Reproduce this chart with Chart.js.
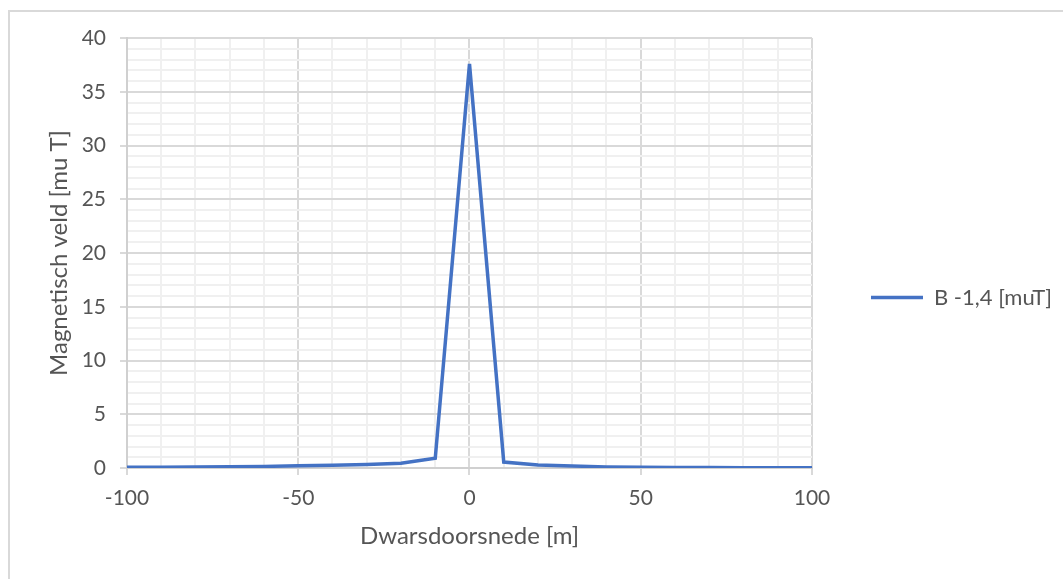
<!DOCTYPE html>
<html>
<head>
<meta charset="utf-8">
<script src="https://cdn.jsdelivr.net/npm/chart.js@4"></script>
<style>
    html, body { margin: 0; padding: 0; background: #fff; }
    .wrap { position: relative; width: 1063px; height: 579px; overflow: hidden; }
    .frame { position: absolute; left: 8px; top: 10px; width: 1200px; height: 700px; border-left: 2px solid #d9d9d9; border-top: 2px solid #d9d9d9; }
    .wrap canvas { position: absolute; left: 0; top: 0; }
</style>
</head>
<body>
<div class="wrap">
    <div class="frame"></div>
    <canvas id="fieldChart" width="1063" height="579"></canvas>
</div>
<script>
// Dwarsdoorsnede [m] en veldsterkte [muT]
const positions = [-100, -90, -80, -70, -60, -50, -40, -30, -20, -10, 0, 10, 20, 30, 40, 50, 60, 70, 80, 90, 100];
const fieldValues = [0.07, 0.08, 0.1, 0.12, 0.15, 0.2, 0.25, 0.32, 0.45, 0.9, 37.6, 0.55, 0.28, 0.19, 0.1, 0.07, 0.05, 0.04, 0.03, 0.03, 0.02];
const seriesLabel = 'B -1,4 [muT]';
const xMajorTicks = [-100, -50, 0, 50, 100];
const yMajorTicks = [0, 5, 10, 15, 20, 25, 30, 35, 40];

const FONT = 'Lato';
const TEXT = '#555555';
const MAJOR = '#d9d9d9';
const MINOR = '#f0f0f0';

const points = positions.map((x, i) => ({ x: x, y: fieldValues[i] }));

new Chart(document.getElementById('fieldChart'), {
    type: 'scatter',
    data: {
        datasets: [{
            label: seriesLabel,
            data: points,
            showLine: true,
            borderColor: '#4472C4',
            backgroundColor: '#4472C4',
            borderWidth: 3.5,
            pointRadius: 0,
            tension: 0
        }]
    },
    options: {
        responsive: false,
        animation: false,
        layout: { padding: { left: 0, top: 38, right: 1, bottom: 22 } },
        plugins: {
            tooltip: { enabled: false },
            legend: {
                position: 'right',
                labels: {
                    usePointStyle: true,
                    pointStyle: 'line',
                    pointStyleWidth: 52,
                    padding: 59,
                    color: TEXT,
                    font: { family: FONT, size: 22 }
                }
            }
        },
        scales: {
            x: {
                type: 'linear',
                min: -100,
                max: 100,
                afterFit: (scale) => { scale.height = 89; },
                ticks: {
                    stepSize: 10,
                    autoSkip: false,
                    maxRotation: 0,
                    padding: 11,
                    color: TEXT,
                    font: { family: FONT, size: 21 },
                    callback: (v) => xMajorTicks.includes(v) ? String(v) : ''
                },
                grid: {
                    lineWidth: 2,
                    tickLength: 7,
                    color: (c) => xMajorTicks.includes(c.tick.value) ? MAJOR : MINOR,
                    tickColor: (c) => xMajorTicks.includes(c.tick.value) ? MAJOR : 'rgba(0,0,0,0)'
                },
                border: { color: '#d0d0d0', width: 2 },
                title: {
                    display: true,
                    text: 'Dwarsdoorsnede [m]',
                    color: TEXT,
                    font: { family: FONT, size: 24 },
                    padding: { top: 0, bottom: 6 }
                }
            },
            y: {
                min: 0,
                max: 40,
                afterFit: (scale) => { scale.width = 127; },
                ticks: {
                    stepSize: 1,
                    autoSkip: false,
                    padding: 14,
                    color: TEXT,
                    font: { family: FONT, size: 21 },
                    callback: (v) => yMajorTicks.includes(v) ? String(v) : ''
                },
                grid: {
                    lineWidth: 2,
                    tickLength: 7,
                    color: (c) => yMajorTicks.includes(c.tick.value) ? MAJOR : MINOR,
                    tickColor: (c) => yMajorTicks.includes(c.tick.value) ? MAJOR : 'rgba(0,0,0,0)'
                },
                border: { color: '#d0d0d0', width: 2 },
                title: {
                    display: true,
                    text: 'Magnetisch veld [mu T]',
                    color: TEXT,
                    font: { family: FONT, size: 24 },
                    padding: { top: 45, bottom: 0 }
                }
            }
        }
    }
});
</script>
</body>
</html>
